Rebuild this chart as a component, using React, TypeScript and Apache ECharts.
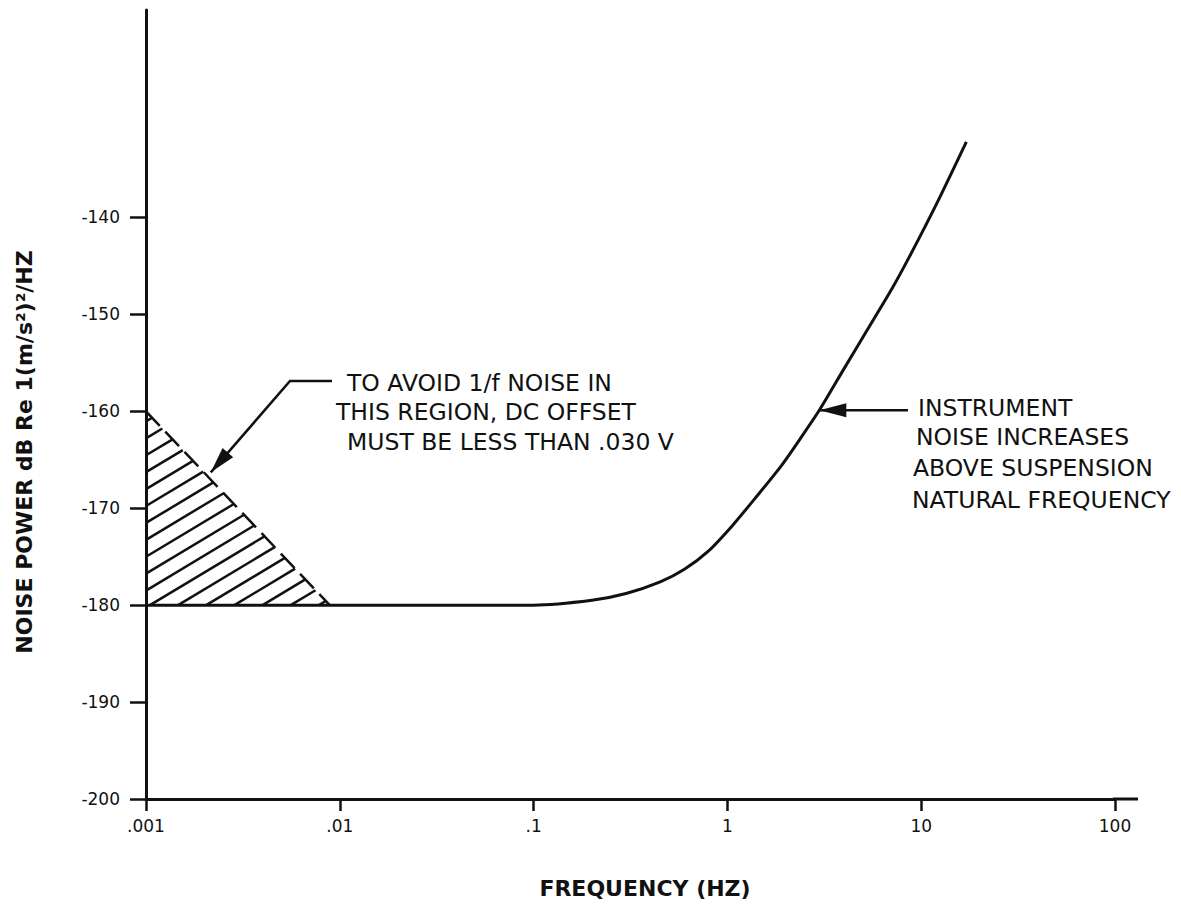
import React, { useEffect, useRef } from "react";
import * as echarts from "echarts";

// ---- data ----
const freqHz = [0.001, 0.01, 0.05, 0.1, 0.2, 0.3, 0.45, 0.6, 0.8, 1.06, 1.4, 1.9, 2.4, 2.98, 4, 5.2, 7, 8.67, 12, 17.1];
const noiseDb = [-180, -180, -180, -180, -179.5, -178.8, -177.6, -176.3, -174.4, -171.8, -168.9, -165.6, -162.7, -159.9, -155.6, -151.8, -147.5, -144.1, -138.6, -132.2];

const xTickValues = [0.001, 0.01, 0.1, 1, 10, 100];
const xTickLabels = [".001", ".01", ".1", "1", "10", "100"];
const yTickValues = [-200, -190, -180, -170, -160, -150, -140];

// hatched 1/f region: top vertex (freq, dB) and right vertex (freq, dB)
const hatchRegion = [[0.001, -160, 0.00887, -180]];

const leftNote = ["TO AVOID 1/f NOISE IN", "THIS REGION, DC OFFSET", "MUST BE LESS THAN .030 V"];
const rightNote = ["INSTRUMENT", "NOISE INCREASES", "ABOVE SUSPENSION", "NATURAL FREQUENCY"];
const leftArrowTip = [0.00216, -166.3];
const rightArrowTip = [2.98, -159.9];

const xTitle = "FREQUENCY (HZ)";
const yTitle = "NOISE POWER dB Re 1(m/s\u00B2)\u00B2/HZ";

const INK = "#111";
const FONT = "DejaVu Sans";

function arrowHead(tip: number[], from: number[], len: number, half: number) {
  const dx = from[0] - tip[0];
  const dy = from[1] - tip[1];
  const L = Math.hypot(dx, dy) || 1;
  const ux = dx / L;
  const uy = dy / L;
  const bx = tip[0] + ux * len;
  const by = tip[1] + uy * len;
  return [
    [tip[0], tip[1]],
    [bx - uy * half, by + ux * half],
    [bx + uy * half, by - ux * half],
  ];
}

export default function App() {
  const ref = useRef<HTMLDivElement>(null);

  useEffect(() => {
    const chart = echarts.init(ref.current!, null, { renderer: "svg" });

    const labelFor = (v: number) => {
      const i = xTickValues.findIndex((t) => Math.abs(Math.log10(t) - Math.log10(v)) < 1e-6);
      return i >= 0 ? xTickLabels[i] : "";
    };

    chart.setOption({
      animation: false,
      backgroundColor: "#fff",
      grid: { left: 146, right: 66, top: 10, bottom: 113, containLabel: false },
      xAxis: {
        type: "log",
        logBase: 10,
        min: 0.001,
        max: 100,
        axisLine: { show: true, onZero: false, lineStyle: { color: INK, width: 3 } },
        axisTick: { show: true, length: 12, lineStyle: { color: INK, width: 2.5 } },
        axisLabel: {
          show: true,
          margin: 18,
          color: INK,
          fontFamily: FONT,
          fontSize: 17,
          formatter: (v: number) => labelFor(v),
        },
        splitLine: { show: false },
        minorTick: { show: false },
      },
      yAxis: {
        type: "value",
        min: -200,
        max: -118.6,
        interval: 10,
        axisLine: { show: true, onZero: false, lineStyle: { color: INK, width: 3 } },
        axisTick: { show: true, length: 16, customValues: yTickValues, lineStyle: { color: INK, width: 2.5 } },
        axisLabel: {
          show: true,
          margin: 26,
          color: INK,
          fontFamily: FONT,
          fontSize: 17,
          customValues: yTickValues,
          formatter: (v: number) => String(v),
        },
        splitLine: { show: false },
      },
      series: [
        {
          type: "line",
          data: freqHz.map((f, i) => [f, noiseDb[i]]),
          smooth: 0.25,
          showSymbol: false,
          symbol: "none",
          lineStyle: { color: INK, width: 3 },
          z: 3,
        },
        {
          type: "custom",
          data: hatchRegion,
          encode: { x: [0, 2], y: [1, 3] },
          clip: false,
          renderItem: (params: any, api: any) => {
            const top = api.coord([api.value(0), api.value(1)]);
            const right = api.coord([api.value(2), api.value(3)]);
            const corner = [top[0], right[1]];
            const th = (31 * Math.PI) / 180;
            const n = [Math.sin(th), Math.cos(th)];
            const tri = [top, corner, right];
            const dot = (p: number[]) => p[0] * n[0] + p[1] * n[1];
            const vals = tri.map(dot);
            const cmin = Math.min(...vals);
            const cmax = Math.max(...vals);
            const spacing = 14.5;
            const children: any[] = [];
            for (let c = cmin + spacing * 0.6; c < cmax - 3; c += spacing) {
              const pts: number[][] = [];
              for (let i = 0; i < 3; i++) {
                const a = tri[i];
                const b = tri[(i + 1) % 3];
                const da = dot(a) - c;
                const db = dot(b) - c;
                if ((da <= 0 && db > 0) || (da > 0 && db <= 0)) {
                  const t = da / (da - db);
                  pts.push([a[0] + t * (b[0] - a[0]), a[1] + t * (b[1] - a[1])]);
                }
              }
              if (pts.length >= 2) {
                children.push({
                  type: "line",
                  shape: { x1: pts[0][0], y1: pts[0][1], x2: pts[1][0], y2: pts[1][1] },
                  style: { stroke: INK, lineWidth: 2.5 },
                });
              }
            }
            children.push({
              type: "line",
              shape: { x1: top[0], y1: top[1], x2: right[0], y2: right[1] },
              style: { stroke: INK, lineWidth: 2.5, lineDash: [20, 8] },
            });
            return { type: "group", children };
          },
          z: 2,
        },
      ],
    });

    const toPx = (p: number[]) => chart.convertToPixel({ xAxisIndex: 0, yAxisIndex: 0 }, p) as number[];

    const p100 = toPx([100, -200]);
    const lTip = toPx(leftArrowTip);
    const rTip = toPx(rightArrowTip);
    const lElbow = [290, 381];
    const lEnd = [332, 381];
    const rEnd = [908, rTip[1]];

    const textStyle = (txt: string) => ({
      text: txt,
      fill: INK,
      fontFamily: FONT,
      fontSize: 23.5,
      textAlign: "left",
      textVerticalAlign: "middle",
    });

    const leftX = [347, 336, 347];
    const leftY = [383, 412, 442];
    const rightX = [918, 916, 913, 912];
    const rightY = [408, 437, 468, 500];

    const graphic: any[] = [
      {
        type: "line",
        shape: { x1: p100[0] - 2, y1: p100[1], x2: p100[0] + 23, y2: p100[1] },
        style: { stroke: INK, lineWidth: 3 },
      },
      {
        type: "polyline",
        shape: { points: [lEnd, lElbow, lTip] },
        style: { stroke: INK, lineWidth: 2.5, fill: "none" },
      },
      {
        type: "polygon",
        shape: { points: arrowHead(lTip, lElbow, 26, 7) },
        style: { fill: INK },
      },
      {
        type: "line",
        shape: { x1: rTip[0], y1: rTip[1], x2: rEnd[0], y2: rEnd[1] },
        style: { stroke: INK, lineWidth: 2.5 },
      },
      {
        type: "polygon",
        shape: { points: arrowHead(rTip, rEnd, 27, 7) },
        style: { fill: INK },
      },
      ...leftNote.map((t, i) => ({ type: "text", x: leftX[i], y: leftY[i], style: textStyle(t) })),
      ...rightNote.map((t, i) => ({ type: "text", x: rightX[i], y: rightY[i], style: textStyle(t) })),
      {
        type: "text",
        x: 645,
        y: 888,
        style: {
          text: xTitle,
          fill: INK,
          fontFamily: FONT,
          fontSize: 22,
          fontWeight: "bold",
          textAlign: "center",
          textVerticalAlign: "middle",
        },
      },
      {
        type: "text",
        x: 24,
        y: 452,
        rotation: Math.PI / 2,
        style: {
          text: yTitle,
          fill: INK,
          fontFamily: FONT,
          fontSize: 22,
          fontWeight: "bold",
          textAlign: "center",
          textVerticalAlign: "middle",
        },
      },
    ];

    chart.setOption({ graphic });

    return () => chart.dispose();
  }, []);

  return (
    <div
      ref={ref}
      style={{ position: "absolute", left: 0, top: 0, width: 1181, height: 912, background: "#fff" }}
    />
  );
}
